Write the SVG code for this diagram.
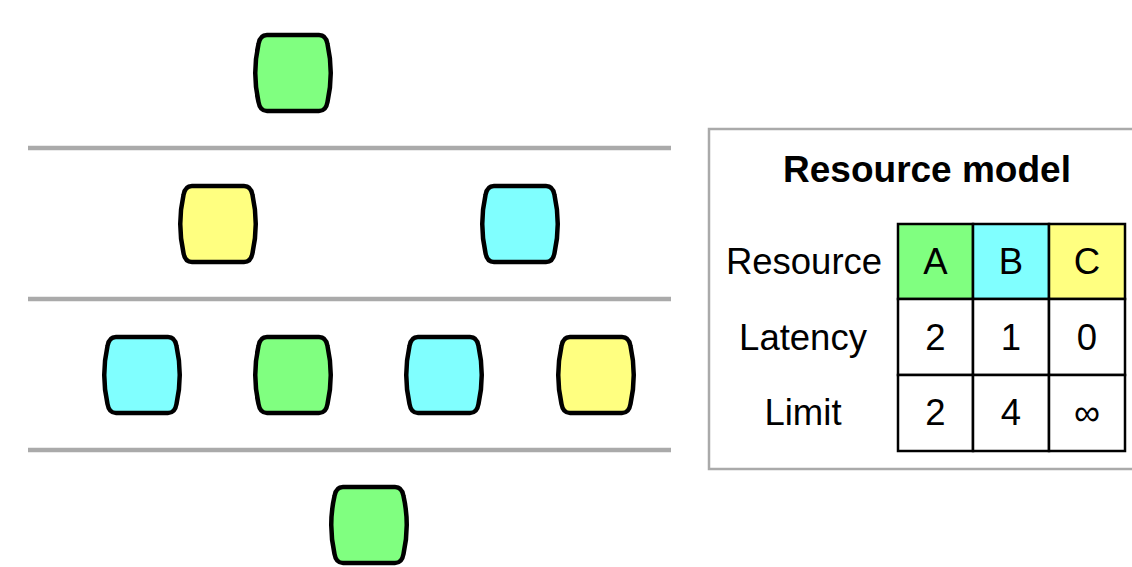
<svg xmlns="http://www.w3.org/2000/svg" width="1132" height="567" viewBox="0 0 1132 567">
<style>
.sep{stroke:#aaaaaa;stroke-width:4.5;fill:none}
.node{stroke:#000;stroke-width:4.5}
.g{fill:#80ff80}.c{fill:#80ffff}.y{fill:#ffff80}
.cell{stroke:#000;stroke-width:2.5;fill:#fff}
.t{font-family:"Liberation Sans",Arial,sans-serif;font-size:36.5px;fill:#000;text-anchor:middle}
.title{font-family:"Liberation Sans",Arial,sans-serif;font-size:37px;font-weight:bold;fill:#000;text-anchor:middle}
</style>
<defs>
<path id="barrel" d="M -26,-38 L 26,-38 Q 33,-38 34.5,-29 Q 41,0 34.5,29 Q 33,38 26,38 L -26,38 Q -33,38 -34.5,29 Q -41,0 -34.5,-29 Q -33,-38 -26,-38 Z"/>
</defs>
<rect width="1132" height="567" fill="#fff"/>
<g id="separators">
<line class="sep" x1="28" y1="148" x2="671" y2="148"/>
<line class="sep" x1="28" y1="299" x2="671" y2="299"/>
<line class="sep" x1="28" y1="450" x2="671" y2="450"/>
</g>
<g id="n1"><use href="#barrel" class="node g" x="293" y="73"/></g>
<g id="n2"><use href="#barrel" class="node y" x="218" y="224"/></g>
<g id="n3"><use href="#barrel" class="node c" x="520" y="224"/></g>
<g id="n4"><use href="#barrel" class="node c" x="142" y="375"/></g>
<g id="n5"><use href="#barrel" class="node g" x="293" y="375"/></g>
<g id="n6"><use href="#barrel" class="node c" x="444" y="375"/></g>
<g id="n7"><use href="#barrel" class="node y" x="596" y="375"/></g>
<g id="n8"><use href="#barrel" class="node g" x="369" y="525"/></g>
<g id="connectors"></g>
<g id="legend">
<rect x="709" y="129" width="440" height="340" fill="#fff" stroke="#aaaaaa" stroke-width="2.5"/>
<text class="title" x="927" y="182">Resource model</text>
<rect class="cell" x="898" y="224" width="75" height="75" style="fill:#80ff80"/>
<rect class="cell" x="973" y="224" width="76" height="75" style="fill:#80ffff"/>
<rect class="cell" x="1049" y="224" width="76" height="75" style="fill:#ffff80"/>
<rect class="cell" x="898" y="299" width="75" height="76"/>
<rect class="cell" x="973" y="299" width="76" height="76"/>
<rect class="cell" x="1049" y="299" width="76" height="76"/>
<rect class="cell" x="898" y="375" width="75" height="76"/>
<rect class="cell" x="973" y="375" width="76" height="76"/>
<rect class="cell" x="1049" y="375" width="76" height="76"/>
<text class="t" x="804" y="274">Resource</text>
<text class="t" x="803" y="350">Latency</text>
<text class="t" x="803" y="425">Limit</text>
<text class="t" x="935.5" y="274">A</text>
<text class="t" x="1011" y="274">B</text>
<text class="t" x="1087" y="274">C</text>
<text class="t" x="935.5" y="350">2</text>
<text class="t" x="1011" y="350">1</text>
<text class="t" x="1087" y="350">0</text>
<text class="t" x="935.5" y="425">2</text>
<text class="t" x="1011" y="425">4</text>
<text class="t" x="1087" y="425">∞</text>
</g>
</svg>
